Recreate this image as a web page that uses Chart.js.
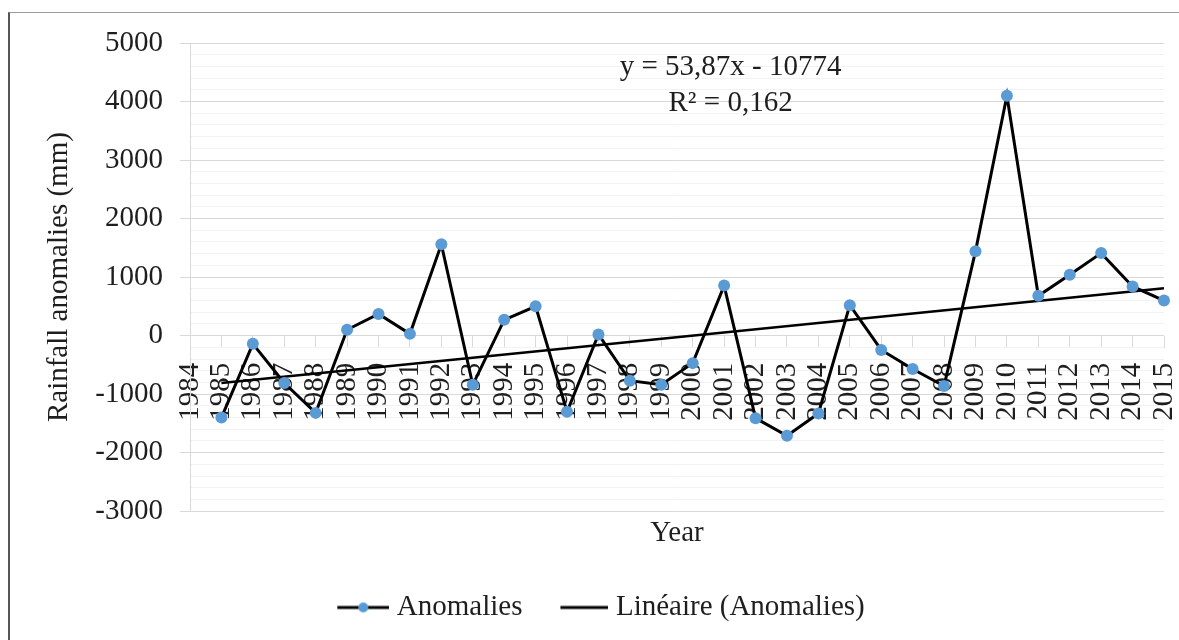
<!DOCTYPE html>
<html>
<head>
<meta charset="utf-8">
<title>Rainfall anomalies</title>
<script src="https://cdn.jsdelivr.net/npm/chart.js@4.4.1/dist/chart.umd.min.js"></script>
<style>
    html, body { margin: 0; padding: 0; background: #fff; }
    #wrap { position: relative; width: 1179px; height: 640px; overflow: hidden; }
    #frame { position: absolute; left: 8px; top: 12px; right: -2px; bottom: -2px; border-left: 2px solid #555; border-top: 1px solid #9a9a9a; }
    #rainChart { position: absolute; left: 0; top: 0; }
</style>
</head>
<body>
<div id="wrap">
    <div id="frame"></div>
    <canvas id="rainChart" width="1179" height="640"></canvas>
</div>
<script>
// ============================================
// DATA
// ============================================
const years = [
    '1984', '1985', '1986', '1987', '1988', '1989', '1990', '1991',
    '1992', '1993', '1994', '1995', '1996', '1997', '1998', '1999',
    '2000', '2001', '2002', '2003', '2004', '2005', '2006', '2007',
    '2008', '2009', '2010', '2011', '2012', '2013', '2014', '2015'
];

// rainfall anomalies (mm), 1984 has no value
const anomalies = [
    null, -1400, -140, -810, -1320, 100, 370, 30,
    1560, -840, 270, 500, -1300, 20, -770, -840,
    -470, 855, -1410, -1710, -1330, 520, -245, -570,
    -860, 1440, 4100, 680, 1040, 1410, 840, 600
];

// linear trend read at its two ends (1985 and 2015)
const trendEnds = [-808, 808];

const yTicks = { min: -3000, max: 5000, major: 1000, minor: 200 };

const equationLines = ['y = 53,87x - 10774', 'R\u00B2 = 0,162'];

const seriesLabels = ['Anomalies', 'Lin\u00E9aire (Anomalies)'];

// ============================================
// HELPERS
// ============================================
const FONT = '"Liberation Serif", "Times New Roman", serif';
const TEXT = '#1e1e1e';
const BLUE = '#5b9bd5';

const trendline = years.map((y, i) => {
    if (i === 1) return trendEnds[0];
    if (i === years.length - 1) return trendEnds[1];
    return null;
});

// legend swatch: line (with a dot for the series), drawn on a small canvas
function legendMarker(withDot) {
    const c = document.createElement('canvas');
    c.width = 54;
    c.height = 14;
    const g = c.getContext('2d');
    g.strokeStyle = '#000';
    g.lineWidth = 3;
    g.beginPath();
    g.moveTo(withDot ? 2 : 6, 7);
    g.lineTo(54, 7);
    g.stroke();
    if (withDot) {
        g.fillStyle = BLUE;
        g.beginPath();
        g.arc(28, 7, 5, 0, Math.PI * 2);
        g.fill();
    }
    return c;
}

const markers = [legendMarker(true), legendMarker(false)];

// regression equation drawn above the plot
const equationPlugin = {
    id: 'equation',
    afterDraw(chart) {
        const { ctx, chartArea } = chart;
        const cx = chartArea.left + (chartArea.right - chartArea.left) * 0.555;
        ctx.save();
        ctx.font = '29px ' + FONT;
        ctx.fillStyle = TEXT;
        ctx.textAlign = 'center';
        ctx.textBaseline = 'alphabetic';
        ctx.fillText(equationLines[0], cx, chartArea.top + 32);
        ctx.fillText(equationLines[1], cx, chartArea.top + 68);
        ctx.restore();
    }
};

// ============================================
// CHART
// ============================================
const ctx = document.getElementById('rainChart').getContext('2d');
const rainChart = new Chart(ctx, {
    type: 'line',
    data: {
        labels: years,
        datasets: [
            {
                label: seriesLabels[0],
                data: anomalies,
                borderColor: '#000',
                borderWidth: 3,
                pointBackgroundColor: BLUE,
                pointBorderColor: BLUE,
                pointRadius: 6,
                pointBorderWidth: 0,
                tension: 0,
                spanGaps: false
            },
            {
                label: seriesLabels[1],
                data: trendline,
                borderColor: '#000',
                borderWidth: 2.5,
                pointRadius: 0,
                tension: 0,
                spanGaps: true
            }
        ]
    },
    options: {
        responsive: false,
        animation: false,
        devicePixelRatio: 1,
        layout: {
            padding: { top: 43, right: 0, bottom: 8, left: 28 }
        },
        plugins: {
            tooltip: { enabled: false },
            title: {
                display: true,
                text: 'Year',
                position: 'bottom',
                fullSize: false,
                weight: 500,
                color: TEXT,
                font: { family: FONT, size: 29, weight: 'normal' },
                padding: { top: 5, bottom: 3 }
            },
            legend: {
                position: 'bottom',
                labels: {
                    usePointStyle: true,
                    pointStyleWidth: 40,
                    padding: 39,
                    color: TEXT,
                    font: { family: FONT, size: 29 },
                    generateLabels(chart) {
                        const items = Chart.defaults.plugins.legend.labels.generateLabels(chart);
                        items.forEach((it, i) => { it.pointStyle = markers[i]; });
                        return items;
                    }
                }
            }
        },
        scales: {
            x: {
                type: 'category',
                position: { y: 0 },
                offset: false,
                border: { display: false },
                grid: {
                    display: true,
                    drawOnChartArea: false,
                    drawTicks: true,
                    tickLength: 12,
                    color: '#d9d9d9'
                },
                ticks: {
                    autoSkip: false,
                    minRotation: 90,
                    maxRotation: 90,
                    padding: 15,
                    color: TEXT,
                    font: { family: FONT, size: 29 }
                },
                afterFit(scale) {
                    scale.paddingLeft = 0;
                    scale.paddingRight = 15;
                }
            },
            y: {
                min: yTicks.min,
                max: yTicks.max,
                border: { display: true, color: '#d9d9d9' },
                grid: {
                    color: c => (c.tick && c.tick.value % yTicks.major === 0) ? '#d9d9d9' : '#f2f2f2',
                    tickColor: c => (c.tick && c.tick.value % yTicks.major === 0) ? '#d9d9d9' : 'rgba(0,0,0,0)',
                    tickLength: 10
                },
                ticks: {
                    stepSize: yTicks.minor,
                    autoSkip: false,
                    padding: 17,
                    color: TEXT,
                    font: { family: FONT, size: 29 },
                    callback: v => (Math.round(v) % yTicks.major === 0) ? Math.round(v) : ''
                },
                title: {
                    display: true,
                    text: 'Rainfall anomalies (mm)',
                    color: TEXT,
                    font: { family: FONT, size: 29 },
                    padding: { top: 14, bottom: 0 }
                },
                afterFit(scale) {
                    scale.width = 162;
                }
            }
        }
    },
    plugins: [equationPlugin]
});
</script>
</body>
</html>
